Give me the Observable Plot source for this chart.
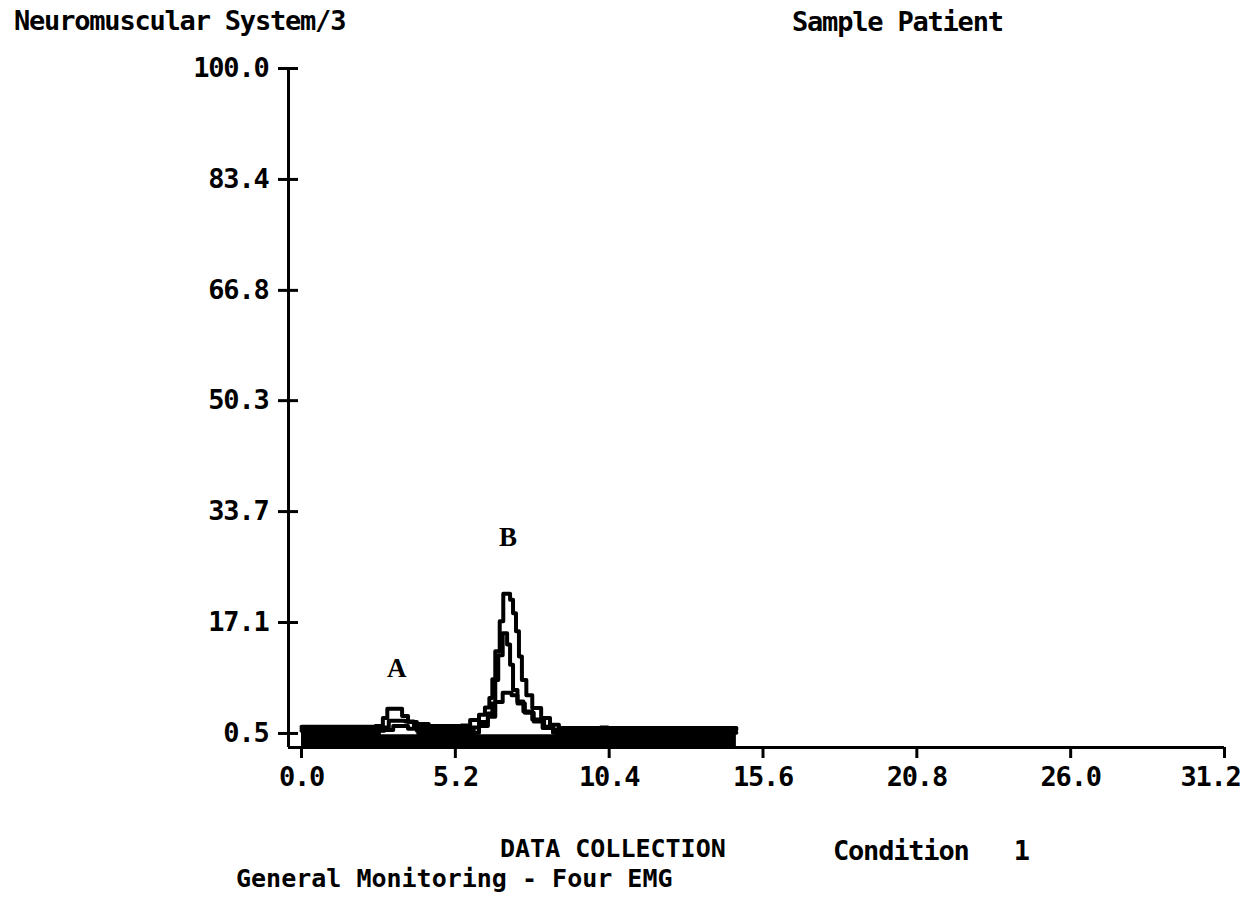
<!DOCTYPE html>
<html>
<head>
<meta charset="utf-8">
<script src="https://cdn.jsdelivr.net/npm/d3@7"></script>
<script src="https://cdn.jsdelivr.net/npm/@observablehq/plot@0.6"></script>
<style>
  html, body { margin: 0; padding: 0; background: #fff; }
  #wrap { position: relative; width: 1242px; height: 902px; overflow: hidden; }
  #chart { position: absolute; left: 0; top: 0; }
  .t { position: absolute; font-family: "DejaVu Sans Mono", monospace; font-weight: bold;
       font-size: 27px; letter-spacing: -1.2px; line-height: 22px; color: #000; white-space: pre; }
  .s { font-size: 25px; letter-spacing: 0px; }
</style>
</head>
<body>
<div id="wrap">
  <div id="chart"></div>
  <div class="t" style="left:14px; top:10px;">Neuromuscular System/3</div>
  <div class="t" style="left:792px; top:11px;">Sample Patient</div>
  <div class="t s" style="left:500px; top:838px;">DATA COLLECTION</div>
  <div class="t" style="left:833px; top:840px;">Condition   1</div>
  <div class="t s" style="left:236px; top:868px;">General Monitoring - Four EMG</div>
</div>
<script>
// ---- axis ticks ----
const yTicks = [0.5, 17.1, 33.7, 50.3, 66.8, 83.4, 100.0];
const xTicks = [0.0, 5.2, 10.4, 15.6, 20.8, 26.0, 31.2];
const xDomain = [-0.44, 31.2];
const yDomain = [-1.6, 100];

// ---- EMG channel 1 (tallest trace) ----
const ch1X = [0, 2.5, 2.75, 2.9, 3.4, 3.6, 3.9, 4.3, 5.4, 5.7, 6.0, 6.2, 6.35, 6.45, 6.55, 6.7, 6.82, 7.05, 7.15, 7.25, 7.35, 7.45, 7.6, 7.8, 8.1, 8.4, 8.7, 14.7];
const ch1Y = [1.5, 1.6, 2.8, 4.2, 3.1, 2.2, 1.9, 1.6, 1.7, 2.5, 3.3, 4.4, 5.8, 8.6, 12.8, 17.3, 21.4, 20.5, 18.5, 15.8, 12.0, 8.5, 6.2, 4.3, 2.8, 1.8, 1.3, 1.3];

// ---- EMG channel 2 ----
const ch2X = [0, 2.7, 2.95, 3.5, 3.8, 4.3, 5.7, 6.0, 6.3, 6.45, 6.55, 6.65, 6.8, 6.95, 7.05, 7.15, 7.3, 7.5, 7.8, 8.2, 8.5, 14.7];
const ch2Y = [1.2, 1.4, 2.4, 2.3, 1.6, 1.3, 1.4, 2.2, 3.5, 5.0, 8.5, 12.2, 15.5, 13.8, 10.8, 7.0, 5.3, 3.8, 2.6, 1.5, 1.1, 1.1];

// ---- EMG channel 3 ----
const ch3X = [0, 2.8, 3.1, 3.6, 3.9, 5.7, 6.0, 6.3, 6.55, 6.8, 7.1, 7.3, 7.55, 7.85, 8.15, 8.5, 14.7];
const ch3Y = [0.9, 1.0, 1.6, 1.2, 0.9, 0.6, 1.6, 3.0, 5.2, 6.6, 6.2, 5.0, 3.6, 2.3, 1.3, 0.6, 0.6];

// ---- EMG channel 4 / baseline noise band (low and high envelope) ----
const bandX    = [0.0, 0.6, 1.3, 2.5, 2.7, 3.9, 4.3, 5.6, 5.9, 8.6, 9.0, 10.1, 10.4, 10.8, 11.5, 14.7];
const bandHigh = [1.6, 1.4, 1.3, 1.6, 0.3, 1.5, 1.6, 1.2, 0.3, 1.2, 1.2, 1.6, 1.3, 1.2, 1.0, 1.0];
const bandLow  = [-1.8, -1.8, -1.8, -1.8, -1.8, -1.8, -1.8, -1.8, -1.8, -1.8, -1.8, -1.8, -1.8, -1.8, -1.8, -1.8];

// ---- peak annotations ----
const peakLabels = ["A", "B"];
const peakLabelX = [3.2, 6.96];
const peakLabelY = [10.2, 29.8];

const toRows = (xs, ys) => xs.map((x, i) => ({x, y: ys[i]}));
const band = bandX.map((x, i) => ({x, lo: bandLow[i], hi: bandHigh[i]}));
const channels = [toRows(ch1X, ch1Y), toRows(ch2X, ch2Y), toRows(ch3X, ch3Y)];
const annotations = peakLabels.map((t, i) => ({t, x: peakLabelX[i], y: peakLabelY[i]}));

const axisFont = {fontFamily: "DejaVu Sans Mono", fontWeight: "bold", fontSize: 27, fill: "black"};
const fmt = d => d.toFixed(1);

const plot = Plot.plot({
  width: 1242,
  height: 902,
  marginLeft: 288,
  marginRight: 18,
  marginTop: 68,
  marginBottom: 155,
  x: {domain: xDomain},
  y: {domain: yDomain},
  style: {background: "white", color: "black", fontFamily: "DejaVu Sans Mono", fontWeight: "bold", fontSize: "27px", letterSpacing: "-1.2px", overflow: "visible"},
  marks: [
    Plot.areaY(band, {x: "x", y1: "lo", y2: "hi", fill: "black", curve: "step-after"}),
    ...channels.map(d => Plot.line(d, {x: "x", y: "y", stroke: "black", strokeWidth: 4, curve: "step-after"})),
    Plot.ruleX([xDomain[0]], {stroke: "black", strokeWidth: 3}),
    Plot.ruleY([yDomain[0]], {stroke: "black", strokeWidth: 3}),
    Plot.axisY({ticks: yTicks, tickSize: 20, dx: 10, tickFormat: () => "", strokeWidth: 3, label: null}),
    Plot.axisY({ticks: yTicks, tickSize: 0, tickPadding: 20, tickFormat: fmt, label: null, ...axisFont}),
    Plot.axisX({ticks: xTicks, tickSize: 11, tickFormat: () => "", strokeWidth: 3, label: null}),
    Plot.axisX({ticks: xTicks.slice(0, -1), tickSize: 0, tickPadding: 19, tickFormat: fmt, label: null, ...axisFont}),
    Plot.axisX({ticks: xTicks.slice(-1), tickSize: 0, tickPadding: 19, dx: -14, tickFormat: fmt, label: null, ...axisFont}),
    Plot.text(annotations, {x: "x", y: "y", text: "t", fontFamily: "Liberation Serif", fontWeight: "bold", fontSize: 27, fill: "black"})
  ]
});
document.getElementById("chart").appendChild(plot);
</script>
</body>
</html>
